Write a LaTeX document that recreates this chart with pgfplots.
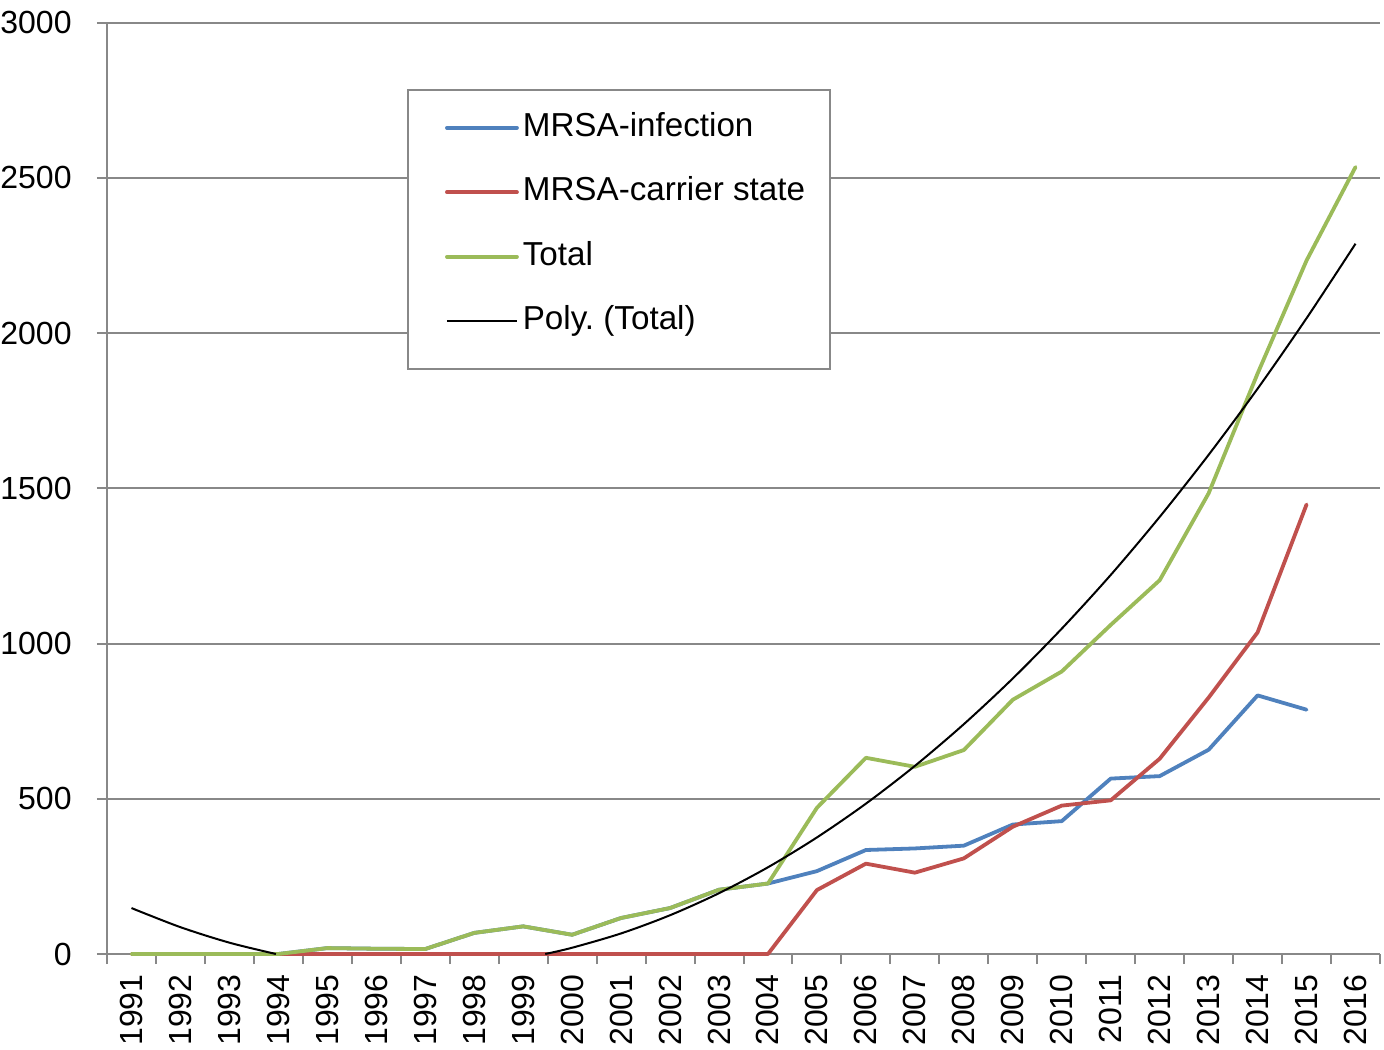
\documentclass[border=0pt]{standalone}
\usepackage{fontspec}
\setmainfont{Liberation Sans}
\usepackage{pgfplots}
\usepackage{pgfplotstable}
\pgfplotsset{compat=1.18}
\definecolor{mblue}{HTML}{4F81BD}
\definecolor{mred}{HTML}{C0504D}
\definecolor{mgreen}{HTML}{9BBB59}
\definecolor{gridgray}{HTML}{888888}
\pgfplotstableread{
i  year inf  car  tot
0  1991 0    0    0
1  1992 0    0    0
2  1993 0    0    0
3  1994 0    0    0
4  1995 19   0    19
5  1996 17   0    17
6  1997 16   0    16
7  1998 68   0    68
8  1999 89   0    89
9  2000 62   0    62
10 2001 116  0    116
11 2002 148  0    148
12 2003 207  0    207
13 2004 227  0    227
14 2005 267  206  471
15 2006 335  291  632
16 2007 340  262  603
17 2008 349  308  657
18 2009 417  410  819
19 2010 428  478  910
20 2011 565  495  1060
21 2012 573  629  1204
22 2013 658  826  1484
23 2014 833  1036 1870
24 2015 787  1448 2234
25 2016 nan  nan  2535
}\data
\begin{document}
\begin{tikzpicture}
\path[use as bounding box] (-53.5bp,-48bp) rectangle (638.5bp,477bp);
\begin{axis}[
  scale only axis, width=636.5bp, height=465.65bp,
  at={(0,0)}, anchor=south west,
  xmin=-0.5, xmax=25.5, ymin=0, ymax=3000,
  clip=false,
  unbounded coords=jump,
  axis x line=bottom, axis y line=left,
  axis line style={-, draw=gridgray, line width=1bp},
  xtick={0,...,25},
  xticklabels={1991,1992,1993,1994,1995,1996,1997,1998,1999,2000,2001,2002,2003,2004,2005,2006,2007,2008,2009,2010,2011,2012,2013,2014,2015,2016},
  minor xtick={-0.5,0.5,...,25.5},
  ytick={0,500,...,3000},
  ymajorgrids, grid style={draw=gridgray, line width=1bp},
  tick align=outside, major tick length=5bp, minor tick length=5bp,
  major x tick style={draw=none},
  minor x tick style={draw=gridgray, line width=1bp},
  ytick style={draw=gridgray, line width=1bp},
  tick label style={font=\fontsize{16bp}{19bp}\selectfont},
  /pgf/number format/assume math mode=true,
  /pgf/number format/1000 sep={},
  xticklabel style={rotate=90, anchor=east, inner sep=0pt, xshift=-5bp},
  yticklabel style={inner sep=0pt, xshift=-12.5bp},
  legend style={at={(0.2357,0.9288)}, anchor=north west, draw=gridgray, line width=1bp, fill=white,
    inner xsep=12.5bp, inner ysep=13.6bp, row sep=16.75bp, column sep=2bp,
    font=\fontsize{16.6bp}{19bp}\selectfont,
    nodes={inner sep=0pt, text height=9.5bp, text depth=6bp}, cells={anchor=west}},
  legend image code/.code={\path (0bp,2.5bp); \draw[#1] (6bp,2.5bp) -- (41bp,2.5bp);},
]
\addplot[mblue, line width=1.9bp, line join=round, line cap=round] table[x=i, y=inf] {\data};
\addplot[mred, line width=1.9bp, line join=round, line cap=round] table[x=i, y=car] {\data};
\addplot[mgreen, line width=1.9bp, line join=round, line cap=round] table[x=i, y=tot] {\data};
\addplot[black, line width=1bp, smooth] coordinates {(0,148) (1,86.4) (2,36.5) (2.95,0)};
\addplot[black, line width=1bp, smooth, forget plot] coordinates {(8.45,0) (9,20.2) (10,66.3) (11,124.9) (12,195.9) (13,279.4) (14,375.5) (15,484.3) (16,605.9) (17,740.3) (18,887.6) (19,1048) (20,1221) (21,1408) (22,1608) (23,1821) (24,2048) (25,2288)};
\legend{MRSA-infection, MRSA-carrier state, Total, Poly.\ (Total)}
\end{axis}
\end{tikzpicture}
\end{document}
